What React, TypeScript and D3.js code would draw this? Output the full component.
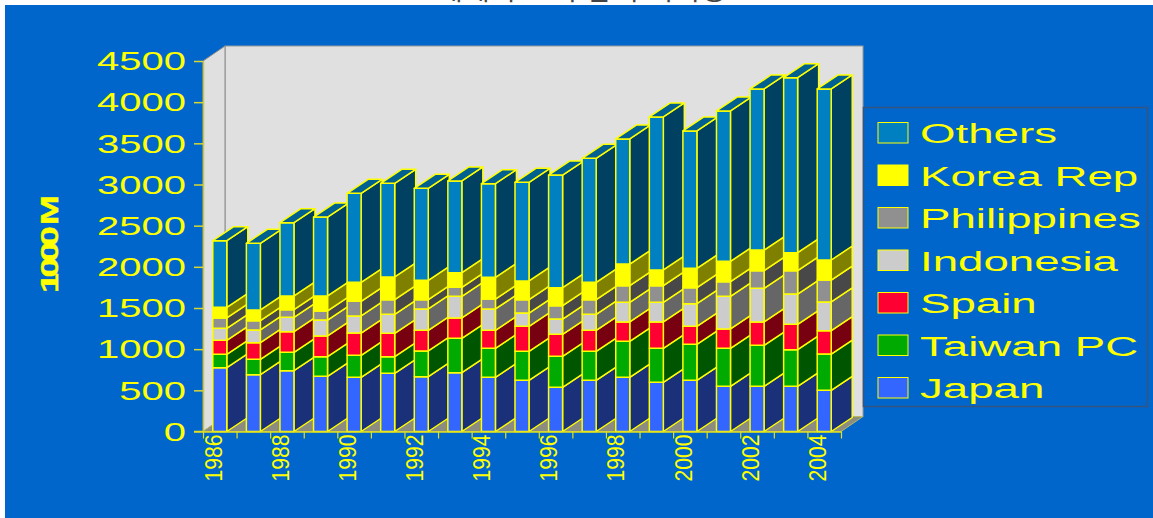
import { useEffect, useRef } from 'react'
import * as d3 from 'd3'

const titleText = '세계 주요국 참치 어획량'
const yAxisTitle = '1000 M'
const years = ['1986', '1987', '1988', '1989', '1990', '1991', '1992', '1993', '1994', '1995', '1996', '1997', '1998', '1999', '2000', '2001', '2002', '2003', '2004']
const yTicks = [0, 500, 1000, 1500, 2000, 2500, 3000, 3500, 4000, 4500]

// stacking order, bottom to top
const seriesNames = ['Japan', 'Taiwan PC', 'Spain', 'Indonesia', 'Philippines', 'Korea Rep', 'Others']
const japan = [775, 690, 739, 670, 658, 707, 666, 714, 658, 622, 537, 622, 658, 598, 622, 549, 549, 549, 500]
const taiwan = [163, 187, 223, 239, 267, 202, 312, 418, 352, 352, 376, 352, 437, 412, 437, 461, 498, 445, 441]
const spain = [170, 202, 250, 251, 271, 284, 251, 247, 219, 304, 267, 255, 235, 320, 219, 235, 283, 308, 283]
const indonesia = [146, 154, 175, 194, 207, 230, 259, 263, 259, 161, 186, 194, 239, 239, 274, 397, 409, 368, 349]
const philippines = [125, 113, 93, 110, 178, 178, 113, 109, 121, 162, 162, 178, 202, 202, 195, 178, 214, 283, 267]
const korea = [130, 130, 166, 182, 231, 276, 235, 178, 264, 227, 219, 211, 263, 191, 235, 247, 251, 219, 243]
const others = [809, 810, 890, 959, 1081, 1137, 1118, 1114, 1137, 1199, 1368, 1506, 1519, 1858, 1668, 1826, 1956, 2125, 2077]

const frontColors = ['#3366ff', '#00aa00', '#ff0033', '#cccccc', '#909090', '#ffff00', '#0080c0']
const sideColors = ['#1a3078', '#005500', '#770011', '#666666', '#484848', '#808000', '#004060']
const topColor = '#006090'

const W = 1153
const H = 518
const plot = { left: 203, right: 841, top: 61, bottom: 431.5 }
const depth = { x: 22, y: 15 }
const barDepth = { x: 21, y: 14 }

export default function App() {
  const ref = useRef<SVGSVGElement>(null)

  useEffect(() => {
    const svg = d3.select(ref.current)
    svg.selectAll('*').remove()

    const x = d3.scaleBand().domain(years).range([plot.left, plot.right]).paddingInner(0.583).paddingOuter(0.2915)
    const y = d3.scaleLinear().domain([0, 4500]).range([plot.bottom, plot.top])

    const rows = years.map((year, i) => {
      const values = [japan, taiwan, spain, indonesia, philippines, korea, others]
      const row: any = { year }
      seriesNames.forEach((name, s) => { row[name] = values[s][i] })
      return row
    })
    const stacked = d3.stack().keys(seriesNames)(rows)

    // title sits mostly off the page, only the bottom of the glyphs shows
    svg.append('text')
      .attr('x', 437).attr('y', 0)
      .attr('textLength', 290)
      .attr('lengthAdjust', 'spacing')
      .style('font-family', '"Noto Sans CJK KR"')
      .style('font-size', '28px')
      .attr('fill', '#444')
      .text(titleText)

    svg.append('rect').attr('x', 5).attr('y', 5).attr('width', W - 5).attr('height', H - 5).attr('fill', '#0066cc')

    // walls and floor
    const backLeft = plot.left + depth.x
    const backRight = plot.right + depth.x
    const backTop = plot.top - depth.y
    const backBottom = plot.bottom - depth.y
    svg.append('rect')
      .attr('x', backLeft).attr('y', backTop)
      .attr('width', backRight - backLeft).attr('height', backBottom - backTop)
      .attr('fill', '#e0e0e0').attr('stroke', '#999').attr('stroke-width', 1)
    svg.append('polygon')
      .attr('points', [[plot.left, plot.top], [backLeft, backTop], [backLeft, backBottom], [plot.left, plot.bottom]].join(' '))
      .attr('fill', '#e0e0e0').attr('stroke', '#8a8a8a').attr('stroke-width', 1)
    svg.append('polygon')
      .attr('points', [[plot.left, plot.bottom], [plot.right, plot.bottom], [backRight, backBottom], [backLeft, backBottom]].join(' '))
      .attr('fill', '#8c8c80').attr('stroke', '#b8b860').attr('stroke-width', 1)

    // bars, left to right so later ones overlap the side of the previous
    const bars = svg.append('g').attr('stroke', '#ffff00').attr('stroke-width', 1.5).attr('stroke-linejoin', 'round')
    years.forEach((year, i) => {
      const x0 = x(year) as number
      const x1 = x0 + x.bandwidth()
      stacked.forEach((layer, s) => {
        const yLow = y(layer[i][0])
        const yHigh = y(layer[i][1])
        bars.append('polygon')
          .attr('points', [[x1, yLow], [x1 + barDepth.x, yLow - barDepth.y], [x1 + barDepth.x, yHigh - barDepth.y], [x1, yHigh]].join(' '))
          .attr('fill', sideColors[s])
        bars.append('rect')
          .attr('x', x0).attr('y', yHigh)
          .attr('width', x.bandwidth()).attr('height', yLow - yHigh)
          .attr('fill', frontColors[s])
        if (s === stacked.length - 1) {
          bars.append('polygon')
            .attr('points', [[x0, yHigh], [x0 + barDepth.x, yHigh - barDepth.y], [x1 + barDepth.x, yHigh - barDepth.y], [x1, yHigh]].join(' '))
            .attr('fill', topColor)
        }
      })
    })

    // y axis
    const yAxis = svg.append('g')
      .attr('transform', `translate(${plot.left},0)`)
      .call(d3.axisLeft(y).tickValues(yTicks).tickFormat(d3.format('d')).tickSize(9).tickSizeOuter(0))
    yAxis.selectAll('path').attr('stroke', '#c8c840').attr('stroke-width', 1.5)
    yAxis.selectAll('line').attr('stroke', '#d8d830').attr('stroke-width', 1.5)
    yAxis.selectAll('text')
      .attr('x', 0).attr('dy', '0.35em')
      .attr('transform', `translate(-17,0) scale(1.6,1)`)
      .attr('text-anchor', 'end')
      .attr('fill', '#ffff00')
      .style('font-family', '"Liberation Sans"')
      .style('font-size', '25px')

    // x axis, ticks on the band edges so one extra end position
    const edges = d3.scalePoint().domain([...years, 'end']).range([plot.left, plot.right])
    const xAxis = svg.append('g')
      .attr('transform', `translate(0,${plot.bottom})`)
      .call(d3.axisBottom(edges).tickSize(7).tickSizeOuter(0).tickFormat((d) => (d !== 'end' && +d % 2 === 0 ? d : '')))
    xAxis.selectAll('path').attr('stroke', '#e0e020').attr('stroke-width', 1.5)
    xAxis.selectAll('line').attr('stroke', '#e0e020').attr('stroke-width', 1.2)
    xAxis.selectAll('text')
      .attr('x', 0).attr('y', 0).attr('dy', 0)
      .attr('transform', 'translate(18,3) rotate(-90)')
      .attr('text-anchor', 'end')
      .attr('textLength', 47)
      .attr('lengthAdjust', 'spacingAndGlyphs')
      .attr('fill', '#ffff00')
      .style('font-family', '"Liberation Sans"')
      .style('font-size', '24px')
    svg.append('line')
      .attr('x1', 194).attr('x2', plot.left).attr('y1', plot.bottom).attr('y2', plot.bottom)
      .attr('stroke', '#e0e020').attr('stroke-width', 1.5)

    // y title, narrow bold text with squeezed digits
    svg.append('text')
      .attr('transform', 'translate(58,293) rotate(-90) scale(1,0.68)')
      .attr('textLength', 98)
      .attr('lengthAdjust', 'spacing')
      .attr('fill', '#ffff00')
      .attr('stroke', '#ffff00')
      .attr('stroke-width', 0.6)
      .style('font-family', '"Liberation Sans"')
      .style('font-weight', 'bold')
      .style('font-size', '36px')
      .text(yAxisTitle)

    // legend, top entry is the last series
    svg.append('rect')
      .attr('x', 863.5).attr('y', 107.5).attr('width', 284).attr('height', 299)
      .attr('fill', '#0066cc').attr('stroke', '#35557f').attr('stroke-width', 1.5)
    const legendNames = ['Others', 'Korea Rep', 'Philippines', 'Indonesia', 'Spain', 'Taiwan PC', 'Japan']
    const legendY = d3.scalePoint().domain(legendNames).range([143, 398])
    const legend = svg.append('g')
    legendNames.forEach((name) => {
      const base = legendY(name) as number
      const s = seriesNames.indexOf(name)
      legend.append('rect')
        .attr('x', 878).attr('y', base - 20.5).attr('width', 30).attr('height', 20.5)
        .attr('fill', frontColors[s]).attr('stroke', '#ffff00').attr('stroke-width', 1)
      legend.append('text')
        .attr('transform', `translate(920,${base}) scale(1.63,1)`)
        .attr('fill', '#ffff00')
        .style('font-family', '"Liberation Sans"')
        .style('font-size', '28px')
        .text(name)
    })
  }, [])

  return <svg ref={ref} width={W} height={H} style={{ position: 'absolute', left: 0, top: 0, background: '#fff' }} />
}
